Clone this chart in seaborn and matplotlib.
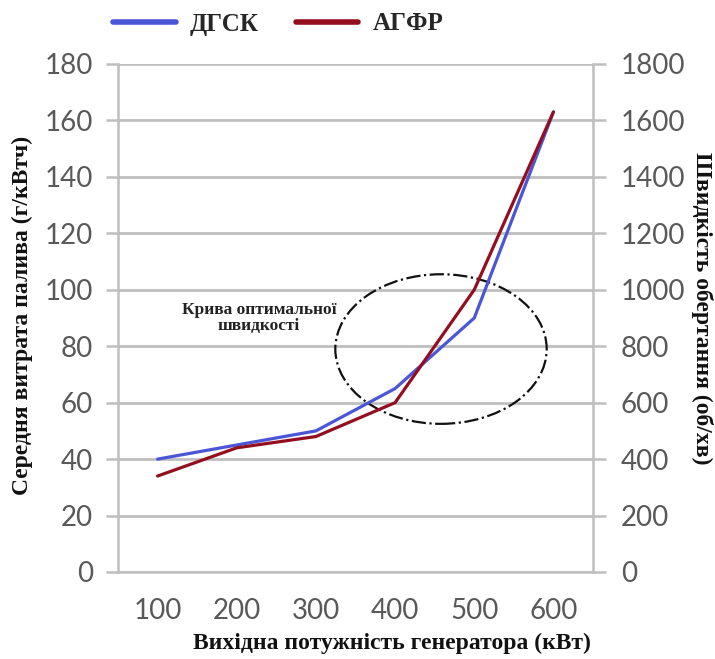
import numpy as np
import pandas as pd
import seaborn as sns
import matplotlib.pyplot as plt
from matplotlib.patches import Ellipse
from matplotlib.ticker import MultipleLocator


power = [100, 200, 300, 400, 500, 600]
dgsk = [40, 45, 50, 65, 90, 163]     # ДГСК
agfr = [34, 44, 48, 60, 100, 163]    # АГФР
series_names = ['ДГСК', 'АГФР']
series_colors = ['#4a56d6', '#930f1f']

ellipse_center = (458, 79)
ellipse_size = (267, 53)

df = pd.DataFrame({
    'power': power * 2,
    'value': dgsk + agfr,
    'series': [series_names[0]] * len(power) + [series_names[1]] * len(power),
})

sns.set_style('white')
plt.rcParams['font.family'] = ['Lato', 'DejaVu Sans']

grey = '#bfbfbf'
txt = '#595959'
serif = ['Liberation Serif', 'DejaVu Serif']

fig = plt.figure(figsize=(7.15, 6.59), dpi=100)
ax = fig.add_axes([118 / 715, 1 - 572 / 659, 475 / 715, 508 / 659])

sns.lineplot(data=df, x='power', y='value', hue='series',
             palette=dict(zip(series_names, series_colors)),
             linewidth=2.3, ax=ax, legend=True)
handles, labels = ax.get_legend_handles_labels()
ax.get_legend().remove()

ax.set_xlim(50, 650)
ax.set_ylim(0, 180)
ax.set_xticks(power)
ax.xaxis.set_minor_locator(MultipleLocator(100, offset=50))
ax.set_yticks(np.arange(0, 181, 20))
ax.yaxis.grid(True, color=grey, linewidth=2)
ax.set_axisbelow(True)

for side in ['left', 'right', 'bottom']:
    ax.spines[side].set_color(grey)
    ax.spines[side].set_linewidth(1.8)
ax.spines['top'].set_visible(False)

ax.tick_params(axis='x', which='major', length=0, pad=19, labelsize=20, labelcolor=txt)
ax.tick_params(axis='x', which='minor', length=9, width=1.8, color=grey, direction='out')
ax.tick_params(axis='y', length=9, width=1.8, color=grey, direction='out', pad=9,
               labelsize=20, labelcolor=txt)

ax2 = ax.twinx()
ax2.set_ylim(0, 1800)
ax2.set_yticks(np.arange(0, 1801, 200))
for side in ['left', 'right', 'top', 'bottom']:
    ax2.spines[side].set_visible(False)
ax2.tick_params(axis='y', length=9, width=1.8, color=grey, direction='out', pad=11,
                labelsize=20, labelcolor=txt)

ax.set_xlabel('Вихідна потужність генератора (кВт)', fontsize=17, fontweight='bold',
              family=serif, color='#111111')
ax.xaxis.set_label_coords(0.577, -0.14)
ax.xaxis.label.set_va('center')

ax.set_ylabel('Середня витрата палива (г/кВтч)', fontsize=17, fontweight='bold',
              family=serif, color='#111111')
ax.yaxis.set_label_coords(-0.202, 0.506)
ax.yaxis.label.set_va('center')

ax2.set_ylabel('Швидкість обертання (об/хв)', fontsize=17, fontweight='bold',
               family=serif, color='#111111', rotation=270)
ax2.yaxis.set_label_coords(1.229, 0.52)
ax2.yaxis.label.set_va('center')

ax.add_patch(Ellipse(ellipse_center, ellipse_size[0], ellipse_size[1], fill=False,
                     edgecolor='#111111', linestyle='-.', linewidth=1.6))
ax.text(228, 90, 'Крива оптимальної\nшвидкості', ha='center', va='center',
        fontsize=12.5, fontweight='bold', family=serif, color='#222222', linespacing=1.05)

fig.legend(handles, labels, loc='center left', bbox_to_anchor=(113 / 715, 1 - 24 / 659),
           ncol=2, frameon=False, borderpad=0, borderaxespad=0, handlelength=2.5,
           handletextpad=0.56, columnspacing=1.5,
           prop={'family': serif, 'weight': 'bold', 'size': 18})
for line in fig.legends[0].get_lines():
    line.set_linewidth(4)

fig.savefig('out.png', dpi=100)
